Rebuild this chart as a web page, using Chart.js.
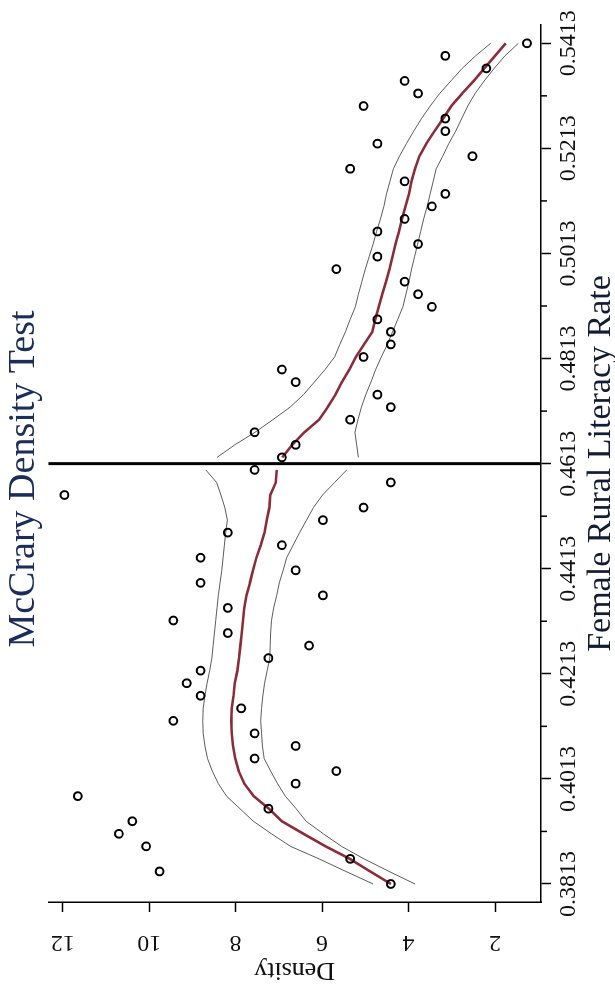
<!DOCTYPE html>
<html>
<head>
<meta charset="utf-8">
<title>McCrary Density Test</title>
<script src="https://cdn.jsdelivr.net/npm/chart.js@4.4.0/dist/chart.umd.min.js"></script>
<style>
html, body { margin: 0; padding: 0; background: #fff; overflow: hidden; }
/* the chart is drawn landscape and turned a quarter left, like the original */
#page {
  position: absolute; left: 0; top: 0;
  width: 989px; height: 615px;
  transform-origin: 0 0;
  transform: translate(0, 989px) rotate(-90deg);
}
</style>
</head>
<body>
<div id="page"><canvas id="mccrary" width="989" height="615"></canvas></div>

<script type="text/javascript">

// bin midpoints, left and right of the cutoff
var leftBins = [0.38130, 0.38369, 0.38608, 0.38846, 0.39085, 0.39324, 0.39563, 0.39802, 0.40040, 0.40279,
                0.40518, 0.40757, 0.40996, 0.41235, 0.41473, 0.41712, 0.41951, 0.42190, 0.42429, 0.42667,
                0.42906, 0.43145, 0.43384, 0.43623, 0.43861, 0.44100, 0.44339, 0.44578, 0.44817, 0.45055,
                0.45294, 0.45533, 0.45772, 0.46011];
var rightBins = [0.46249, 0.46488, 0.46727, 0.46966, 0.47205, 0.47443, 0.47682, 0.47921, 0.48160, 0.48399,
                 0.48637, 0.48876, 0.49115, 0.49354, 0.49593, 0.49832, 0.50070, 0.50309, 0.50548, 0.50787,
                 0.51026, 0.51264, 0.51503, 0.51742, 0.51981, 0.52220, 0.52458, 0.52697, 0.52936, 0.53175,
                 0.53414, 0.53652, 0.53891, 0.54130];

// bin densities (circles)
var leftDensity = [4.41, 9.76, 5.35, 10.07, 10.70, 10.39, 7.24, 11.65, 6.61, 5.67,
                   7.56, 6.61, 7.56, 9.44, 7.87, 8.81, 9.13, 8.81, 7.24, 6.30,
                   8.18, 9.44, 8.18, 5.98, 8.81, 6.61, 8.81, 6.93, 8.18, 5.98,
                   5.04, 11.96, 4.41, 7.56];
var rightDensity = [6.93, 6.61, 7.56, 5.35, 4.41, 4.72, 6.61, 6.93, 5.04, 4.41,
                    4.41, 4.72, 3.46, 3.78, 4.09, 5.67, 4.72, 3.78, 4.72, 4.09,
                    3.46, 3.15, 4.09, 5.35, 2.52, 4.72, 3.15, 3.15, 5.04, 3.78,
                    4.09, 2.20, 3.15, 1.26];

// local linear fit and its confidence band
var leftFit = [4.41, 4.89, 5.36, 5.92, 6.43, 6.93, 7.23, 7.58, 7.80, 7.93,
               8.01, 8.06, 8.09, 8.10, 8.09, 8.05, 8.02, 7.96, 7.92, 7.89,
               7.86, 7.83, 7.80, 7.75, 7.67, 7.60, 7.52, 7.42, 7.33, 7.28,
               7.22, 7.20, 7.07, 7.05];
var rightFit = [6.92, 6.69, 6.41, 6.07, 5.87, 5.69, 5.54, 5.37, 5.22, 5.03,
                4.84, 4.77, 4.69, 4.61, 4.52, 4.44, 4.37, 4.30, 4.22, 4.15,
                4.07, 3.99, 3.93, 3.85, 3.75, 3.59, 3.40, 3.20, 3.01, 2.76,
                2.49, 2.25, 2.00, 1.75];
var leftCiHi = [4.82, 5.45, 6.07, 6.73, 7.17, 7.59, 7.90, 8.21, 8.40, 8.54,
                8.65, 8.71, 8.75, 8.76, 8.75, 8.71, 8.66, 8.60, 8.55, 8.52,
                8.49, 8.46, 8.43, 8.40, 8.36, 8.32, 8.29, 8.26, 8.23, 8.19,
                8.25, 8.34, 8.44, 8.69];
var leftCiLo = [3.85, 4.45, 5.03, 5.55, 5.97, 6.37, 6.60, 6.85, 7.03, 7.19,
                7.34, 7.38, 7.40, 7.42, 7.40, 7.37, 7.33, 7.27, 7.21, 7.20,
                7.19, 7.17, 7.12, 7.05, 6.99, 6.90, 6.82, 6.67, 6.52, 6.36,
                6.20, 5.99, 5.71, 5.43];
var rightCiHi = [8.43, 8.02, 7.55, 7.14, 6.74, 6.43, 6.18, 5.93, 5.71, 5.59,
                 5.46, 5.35, 5.23, 5.16, 5.08, 5.00, 4.91, 4.82, 4.74, 4.65,
                 4.57, 4.51, 4.43, 4.35, 4.21, 4.05, 3.88, 3.70, 3.50, 3.28,
                 3.02, 2.76, 2.45, 2.10];
var rightCiLo = [5.16, 5.20, 5.24, 5.17, 5.09, 4.99, 4.87, 4.76, 4.63, 4.49,
                 4.37, 4.25, 4.13, 4.06, 3.99, 3.93, 3.86, 3.79, 3.72, 3.65,
                 3.57, 3.50, 3.43, 3.36, 3.21, 3.07, 2.91, 2.77, 2.63, 2.46,
                 2.25, 2.02, 1.77, 1.46];

var cutoff = 0.4613;

// axes
var majorTicks = [0.3813, 0.4013, 0.4213, 0.4413, 0.4613, 0.4813, 0.5013, 0.5213, 0.5413];
var minorTicks = [0.3913, 0.4113, 0.4313, 0.4513, 0.4713, 0.4913, 0.5113, 0.5313];
var densityTicks = [2, 4, 6, 8, 10, 12];
var xMin = 0.37787, xMax = 0.54478;
var yMin = 0.936, yMax = 12.333;

var serif = '"Liberation Serif", "Times New Roman", serif';

function pts(xs, ys) {
  return xs.map(function (x, i) { return { x: x, y: ys[i] }; });
}

function lineSet(label, xs, ys, color, width) {
  return {
    label: label, data: pts(xs, ys), showLine: true, tension: 0,
    borderColor: color, borderWidth: width, pointRadius: 0, fill: false
  };
}

function circleSet(label, xs, ys) {
  return {
    label: label, data: pts(xs, ys), showLine: false,
    pointStyle: 'circle', pointRadius: 3.9, pointBorderWidth: 2,
    pointBorderColor: '#000', pointBackgroundColor: 'rgba(0,0,0,0)'
  };
}

// short unlabeled ticks on x, and the vertical density labels
var axisExtras = {
  id: 'axisExtras',
  afterDraw: function (chart) {
    var sx = chart.scales.x, sy = chart.scales.y, c = chart.ctx, b = chart.chartArea.bottom;
    c.save();
    c.strokeStyle = '#000';
    c.lineWidth = 1.5;
    minorTicks.forEach(function (v) {
      var px = sx.getPixelForValue(v);
      c.beginPath();
      c.moveTo(px, b);
      c.lineTo(px, b + 6);
      c.stroke();
    });
    c.fillStyle = '#111';
    c.font = '24px ' + serif;
    c.textAlign = 'center';
    c.textBaseline = 'middle';
    densityTicks.forEach(function (v) {
      var py = sy.getPixelForValue(v);
      c.save();
      c.translate(47, py);
      c.rotate(-Math.PI / 2);
      c.fillText(String(v), 0, 0);
      c.restore();
    });
    c.restore();
  }
};

var ctx = document.getElementById('mccrary').getContext('2d');

new Chart(ctx, {
  type: 'scatter',
  data: {
    datasets: [
      circleSet('Bins left', leftBins, leftDensity),
      circleSet('Bins right', rightBins, rightDensity),
      { label: 'Cutoff', data: [{ x: cutoff, y: yMin }, { x: cutoff, y: yMax }],
        showLine: true, borderColor: '#000', borderWidth: 3, pointRadius: 0 },
      lineSet('Fit left', leftBins, leftFit, '#8e2b38', 2.6),
      lineSet('Fit right', rightBins, rightFit, '#8e2b38', 2.6),
      lineSet('CI left hi', leftBins, leftCiHi, '#4a4a4a', 0.9),
      lineSet('CI left lo', leftBins, leftCiLo, '#4a4a4a', 0.9),
      lineSet('CI right hi', rightBins, rightCiHi, '#4a4a4a', 0.9),
      lineSet('CI right lo', rightBins, rightCiLo, '#4a4a4a', 0.9)
    ]
  },
  options: {
    responsive: false,
    animation: false,
    devicePixelRatio: 1,
    layout: { padding: { left: 56, right: 25, top: 0, bottom: 0 } },
    plugins: {
      legend: { display: false },
      tooltip: { enabled: false },
      title: {
        display: true,
        text: 'McCrary Density Test',
        color: '#1c2d5a',
        font: { family: serif, size: 38, weight: 'normal', lineHeight: 1.15 },
        padding: { top: 2, bottom: 2.6 }
      }
    },
    scales: {
      x: {
        type: 'linear', position: 'bottom', min: xMin, max: xMax,
        afterFit: function (s) { s.height = 74; },
        afterBuildTicks: function (s) { s.ticks = majorTicks.map(function (v) { return { value: v }; }); },
        grid: { drawOnChartArea: false, drawTicks: true, tickLength: 10, tickWidth: 1.5, tickColor: '#000' },
        border: { display: true, color: '#000', width: 1.5 },
        ticks: {
          autoSkip: false, maxRotation: 0, padding: 3, color: '#111',
          font: { family: serif, size: 24 },
          callback: function (v) { return v.toFixed(4); }
        },
        title: {
          display: true, text: 'Female Rural Literacy Rate', color: '#141c33',
          font: { family: serif, size: 34 }, padding: { top: 0, bottom: -6 }
        }
      },
      y: {
        type: 'linear', position: 'left', min: yMin, max: yMax,
        afterFit: function (s) { s.width = 31; },
        afterBuildTicks: function (s) { s.ticks = densityTicks.map(function (v) { return { value: v }; }); },
        grid: { drawOnChartArea: false, drawTicks: true, tickLength: 10, tickWidth: 1.5, tickColor: '#000' },
        border: { display: true, color: '#000', width: 1.5 },
        ticks: { display: false },
        title: {
          display: true, text: 'Density', color: '#111',
          font: { family: serif, size: 26 }, padding: { top: -52.6, bottom: 0 }
        }
      }
    }
  },
  plugins: [axisExtras]
});

</script>
</body>
</html>
